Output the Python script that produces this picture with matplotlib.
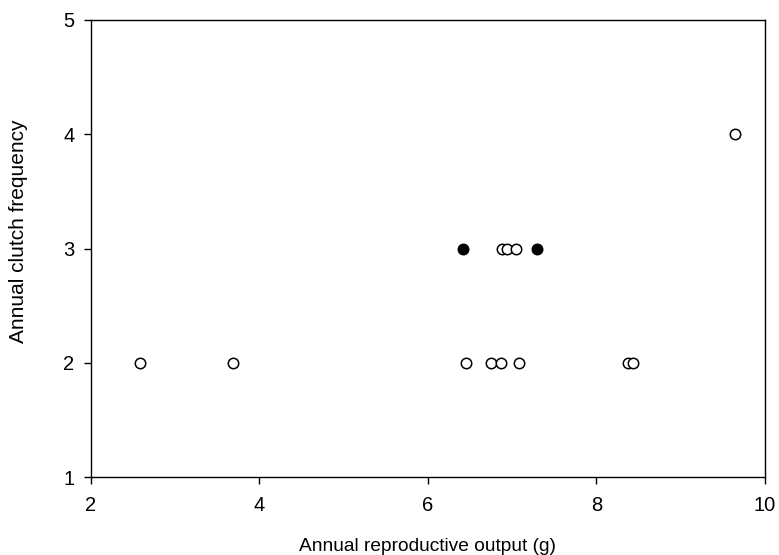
import matplotlib
matplotlib.use("Agg")
import matplotlib.pyplot as plt

plt.rcParams['font.family'] = ['Liberation Sans', 'DejaVu Sans']

open_x = [2.58, 3.69, 6.45, 6.75, 6.87, 7.08, 8.37, 8.43, 6.88, 6.94, 7.04, 9.64]
open_y = [2, 2, 2, 2, 2, 2, 2, 2, 3, 3, 3, 4]
filled_x = [6.42, 7.29]
filled_y = [3, 3]

xticks = [2, 4, 6, 8, 10]
yticks = [1, 2, 3, 4, 5]

fig = plt.figure(figsize=(7.79, 5.55), dpi=100)
ax = fig.add_axes([0.1168, 0.1405, 0.8652, 0.8235])
ax.plot(open_x, open_y, 'o', linestyle='none', markersize=7.5,
        markerfacecolor='white', markeredgecolor='black', markeredgewidth=1.1)
ax.plot(filled_x, filled_y, 'o', linestyle='none', markersize=7.5,
        markerfacecolor='black', markeredgecolor='black', markeredgewidth=1.1)
ax.set_xlim(2, 10)
ax.set_ylim(1, 5)
ax.set_xticks(xticks)
ax.set_yticks(yticks)
ax.tick_params(axis='x', direction='out', length=5, width=1, labelsize=14.5, pad=9)
ax.tick_params(axis='y', direction='out', length=5, width=1, labelsize=14.5, pad=7)
for s in ax.spines.values():
    s.set_linewidth(1)
ax.set_xlabel('Annual reproductive output (g)', fontsize=13.8, labelpad=16)
ax.set_ylabel('Annual clutch frequency', fontsize=15)
ax.yaxis.set_label_coords(-0.094, 0.538)
fig.savefig('out.png', dpi=100)
